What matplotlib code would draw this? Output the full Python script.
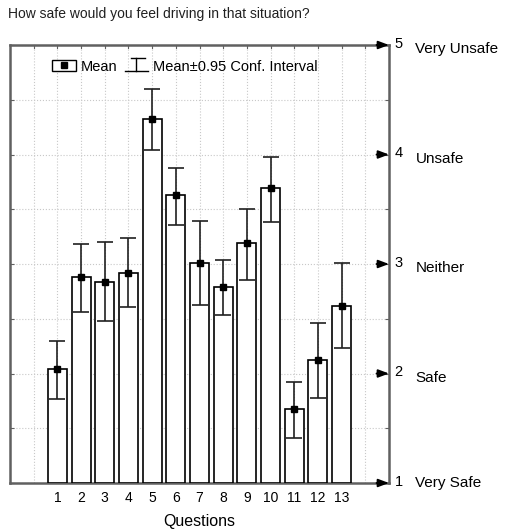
import numpy as np
import matplotlib
matplotlib.use("Agg")
import matplotlib.pyplot as plt
from matplotlib.lines import Line2D
from matplotlib.patches import Rectangle
from matplotlib.legend_handler import HandlerTuple

plt.rcParams["font.family"] = ["Liberation Sans", "DejaVu Sans"]

questions = [1, 2, 3, 4, 5, 6, 7, 8, 9, 10, 11, 12, 13]
means = [2.04, 2.88, 2.84, 2.92, 4.32, 3.63, 3.01, 2.79, 3.19, 3.69, 1.68, 2.12, 2.62]
ci_low = [1.77, 2.56, 2.48, 2.61, 4.04, 3.36, 2.63, 2.53, 2.85, 3.38, 1.41, 1.78, 2.23]
ci_high = [2.30, 3.18, 3.20, 3.24, 4.60, 3.88, 3.39, 3.04, 3.50, 3.98, 1.92, 2.46, 3.01]
scale_vals = [1, 2, 3, 4, 5]
scale_names = ["Very Safe", "Safe", "Neither", "Unsafe", "Very Unsafe"]

means = np.array(means)
err = np.vstack([means - np.array(ci_low), np.array(ci_high) - means])


class HandlerCI:
    # whisker icon: vertical line, short cap on top, wide one at the bottom
    def legend_artist(self, legend, orig_handle, fontsize, handlebox):
        x0, y0 = handlebox.xdescent, handlebox.ydescent
        w, h = handlebox.width, handlebox.height
        t = handlebox.get_transform()
        xm = x0 + w / 2
        lines = [
            Line2D([xm, xm], [y0 - 1, y0 + h + 1], color="black", lw=1, transform=t),
            Line2D([xm - w * 0.25, xm + w * 0.35], [y0 + h + 1, y0 + h + 1], color="black", lw=1, transform=t),
            Line2D([x0, x0 + w], [y0 - 1, y0 - 1], color="black", lw=1, transform=t),
        ]
        for ln in lines:
            handlebox.add_artist(ln)
        return lines[0]


fig = plt.figure(figsize=(5.12, 5.31), dpi=100)
ax = fig.add_axes([10 / 512, 1 - 483 / 531, 379 / 512, 438 / 531])

spine_col = "#606060"
ax.bar(questions, means - 1, bottom=1, width=0.8, color="white",
       edgecolor="black", linewidth=1.2, zorder=3)
ax.errorbar(questions, means, yerr=err, fmt="s", color="black", ms=5,
            ecolor="#202020", elinewidth=1.2, capsize=6, capthick=1.2, zorder=4)

ax.set_xlim(-1, 15)
ax.set_ylim(1, 5)
ax.set_xticks(range(0, 15))
ax.set_xticklabels([str(q) if q in questions else "" for q in range(0, 15)], fontsize=10)
ax.tick_params(axis="x", length=0, pad=6)
ax.set_yticks(np.arange(1, 5.01, 0.5))
ax.tick_params(axis="y", left=True, right=True, labelleft=False, labelright=False,
               direction="in", length=3, color=spine_col)
ax.grid(True, color="#c8c8c8", linestyle=":", linewidth=0.8, zorder=0)

for x in range(0, 15):
    ax.plot([x, x], [5, 4.97], color=spine_col, lw=0.8, clip_on=False, zorder=5)

for s in ax.spines.values():
    s.set_color(spine_col)
    s.set_linewidth(1.8)

for v, name in zip(scale_vals, scale_names):
    ax.annotate("", xy=(1.0, v), xycoords=("axes fraction", "data"),
                xytext=(-9, 0), textcoords="offset points",
                arrowprops=dict(arrowstyle="-|>,head_length=0.8,head_width=0.3",
                                color="black", lw=1.3, mutation_scale=8,
                                shrinkA=0, shrinkB=0),
                annotation_clip=False)
    ax.annotate(str(v), xy=(1.0, v), xycoords=("axes fraction", "data"),
                xytext=(4, 1), textcoords="offset points",
                ha="left", va="center", fontsize=10.5)
    ax.annotate(name, xy=(1.0, v), xycoords=("axes fraction", "data"),
                xytext=(19, -3 if v > 1 else 0), textcoords="offset points",
                ha="left", va="center", fontsize=11)

ax.set_xlabel("Questions", fontsize=11.5, labelpad=6)
fig.text(8 / 512, 1 - 14 / 531, "How safe would you feel driving in that situation?",
         fontsize=10, va="center", ha="left", color="#202020")

mean_box = Rectangle((0, 0), 1, 1, facecolor="white", edgecolor="black", lw=1)
mean_dot = Line2D([], [], marker="s", color="black", linestyle="none", ms=4)
ci_h = Line2D([], [])
ax.legend([(mean_box, mean_dot), ci_h], ["Mean", "Mean\u00b10.95 Conf. Interval"],
          handler_map={tuple: HandlerTuple(ndivide=1), ci_h: HandlerCI()},
          loc="upper left", bbox_to_anchor=(0.085, 0.99), ncol=2, frameon=False,
          fontsize=10.5, handlelength=1.6, handleheight=0.8, columnspacing=0.5,
          handletextpad=0.35, borderpad=0.2)

fig.savefig("out.png", dpi=100)
